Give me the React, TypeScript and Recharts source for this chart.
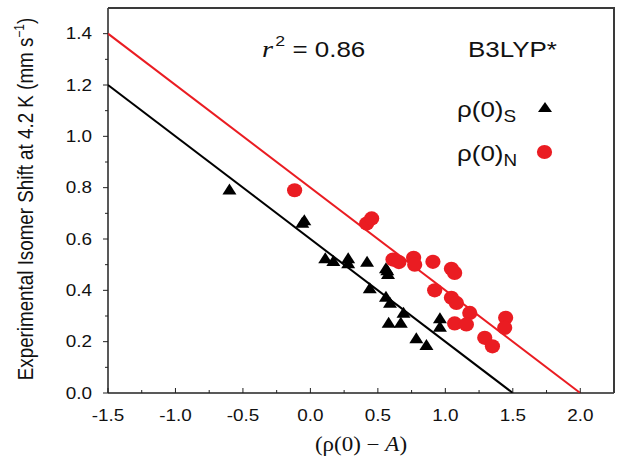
import React from 'react';
import { ScatterChart, Scatter, XAxis, YAxis } from 'recharts';

// ρ(0)_S (black triangles)
const sX = [-0.6, -0.045, -0.06, 0.11, 0.17, 0.28, 0.28, 0.42, 0.56, 0.575, 0.57, 0.44, 0.56, 0.59, 0.69, 0.58, 0.67, 0.785, 0.86, 0.96, 0.96];
const sY = [0.795, 0.675, 0.665, 0.527, 0.516, 0.527, 0.507, 0.513, 0.488, 0.466, 0.48, 0.41, 0.377, 0.354, 0.315, 0.276, 0.276, 0.215, 0.189, 0.293, 0.26];
// ρ(0)_N (red circles)
const nX = [-0.117, 0.417, 0.454, 0.612, 0.656, 0.765, 0.773, 0.908, 1.045, 1.069, 0.921, 1.045, 1.082, 1.181, 1.069, 1.156, 1.447, 1.44, 1.292, 1.349];
const nY = [0.79, 0.66, 0.68, 0.52, 0.51, 0.527, 0.5, 0.511, 0.484, 0.468, 0.4, 0.371, 0.351, 0.312, 0.271, 0.267, 0.293, 0.254, 0.215, 0.182];
// fit lines (endpoints)
const fitSX = [-1.5, 1.5];
const fitSY = [1.2, 0];
const fitNX = [-1.5, 2.0];
const fitNY = [1.4, 0];

const xTicks = [-1.5, -1.25, -1.0, -0.75, -0.5, -0.25, 0, 0.25, 0.5, 0.75, 1.0, 1.25, 1.5, 1.75, 2.0];
const yTicks = [0, 0.1, 0.2, 0.3, 0.4, 0.5, 0.6, 0.7, 0.8, 0.9, 1.0, 1.1, 1.2, 1.3, 1.4];

const r2Text = '0.86';
const methodText = 'B3LYP*';
const yTitle = 'Experimental Isomer Shift at 4.2 K (mm s';
const xTitle = 'A';

const zip = (xs: number[], ys: number[]) => xs.map((x, i) => ({ x, y: ys[i] }));
const dataS = zip(sX, sY);
const dataN = zip(nX, nY);
const lineS = zip(fitSX, fitSY);
const lineN = zip(fitNX, fitNY);

const SANS = 'Liberation Sans, Arial, Helvetica, sans-serif';
const SERIF = 'Liberation Serif, Times New Roman, serif';
const RED = '#ea1c22';
const SX = 1.18;

// plot box geometry (chart layout, not data)
const W = 624;
const H = 463;
const M = { top: 8, right: 10, bottom: 0, left: 0 };
const Y_AXIS_W = 108;
const X_AXIS_H = 70;
const PL = M.left + Y_AXIS_W;
const PR = W - M.right;
const PT = M.top;
const PB = H - M.bottom - X_AXIS_H;

const XTick = (props: any) => {
  const { x, y, payload } = props;
  const v = payload.value;
  const major = Math.abs(v * 2 - Math.round(v * 2)) < 1e-6;
  return (
    <g>
      <line x1={x} x2={x} y1={y} y2={y - (major ? 5 : 3)} stroke="#222" strokeWidth={1} />
      {major && (
        <g transform={`translate(${x},${y + 28}) scale(${SX},1)`}>
          <text x={0} y={0} textAnchor="middle" fontFamily={SANS} fontSize={16} fill="#111">
            {v.toFixed(1)}
          </text>
        </g>
      )}
    </g>
  );
};

const YTick = (props: any) => {
  const { x, y, payload } = props;
  const v = payload.value;
  const major = Math.abs(v * 5 - Math.round(v * 5)) < 1e-6;
  return (
    <g>
      <line x1={x} x2={x - (major ? 5 : 3)} y1={y} y2={y} stroke="#222" strokeWidth={1} />
      {major && (
        <g transform={`translate(${x - 16},${y + 5.7}) scale(${SX},1)`}>
          <text x={0} y={0} textAnchor="end" fontFamily={SANS} fontSize={16} fill="#111">
            {v.toFixed(1)}
          </text>
        </g>
      )}
    </g>
  );
};

const Tri = (props: any) => {
  const { cx, cy } = props;
  if (cx == null || cy == null) return <g />;
  return <polygon points={`${cx},${cy - 5.5} ${cx - 7},${cy + 5.5} ${cx + 7},${cy + 5.5}`} fill="#000" />;
};

const Dot = (props: any) => {
  const { cx, cy } = props;
  if (cx == null || cy == null) return <g />;
  return <ellipse cx={cx} cy={cy} rx={7.6} ry={7.1} fill={RED} />;
};

const NoShape = () => <g />;

const Annotations = () => (
  <svg width={W} height={H} style={{ position: 'absolute', left: 0, top: 0 }}>
    {/* frame top / right */}
    <rect x={PL} y={PT - 1} width={PR - PL + 1} height={2} fill="#3a3a3a" />
    <rect x={PR - 1} y={PT - 1} width={2} height={PB - PT + 1} fill="#3a3a3a" />
    {/* r^2 */}
    <g transform={`translate(262,56.5) scale(${SX},1)`}>
      <text x={0} y={0} fontFamily={SANS} fontSize={22} fill="#111">
        <tspan fontFamily={SERIF} fontStyle="italic" fontSize={24}>r</tspan>
        <tspan fontSize={15} dy={-11} dx={2}>2</tspan>
        <tspan dy={11}> = {r2Text}</tspan>
      </text>
    </g>
    <g transform={`translate(468,56.5) scale(${SX},1)`}>
      <text x={0} y={0} fontFamily={SANS} fontSize={22} fill="#111">{methodText}</text>
    </g>
    {/* legend */}
    <g transform={`translate(457,117) scale(${SX},1)`}>
      <text x={0} y={0} fontFamily={SANS} fontSize={22} fill="#111">
        ρ(0)<tspan fontSize={16} dy={5}>S</tspan>
      </text>
    </g>
    <polygon points="545,102 538,112 552,112" fill="#000" />
    <g transform={`translate(457,161) scale(${SX},1)`}>
      <text x={0} y={0} fontFamily={SANS} fontSize={22} fill="#111">
        ρ(0)<tspan fontSize={16} dy={5}>N</tspan>
      </text>
    </g>
    <ellipse cx={544.5} cy={152} rx={7.6} ry={7.1} fill={RED} />
    {/* y title */}
    <g transform="translate(32.5,199) rotate(-90) scale(1,1.17)">
      <text x={0} y={0} textAnchor="middle" fontFamily={SANS} fontSize={18.8} fill="#111">
        {yTitle}
        <tspan fontSize={12} dy={-7}>−1</tspan>
        <tspan dy={7}>)</tspan>
      </text>
    </g>
    {/* x title */}
    <g transform={`translate(361,451) scale(1.15,1)`}>
      <text x={0} y={0} textAnchor="middle" fontFamily={SERIF} fontSize={20} fill="#111">
        (ρ(0) − <tspan fontStyle="italic">{xTitle}</tspan>)
      </text>
    </g>
  </svg>
);

export default function App() {
  return (
    <div style={{ position: 'absolute', left: 0, top: 0, width: W, height: H, background: '#fff' }}>
      <ScatterChart width={W} height={H} margin={M}>
        <XAxis
          type="number"
          dataKey="x"
          domain={[-1.5, 2.25]}
          ticks={xTicks}
          interval={0}
          allowDataOverflow
          tickLine={false}
          tickSize={0}
          tickMargin={0}
          height={X_AXIS_H}
          axisLine={{ stroke: '#222', strokeWidth: 1.5 }}
          tick={<XTick />}
        />
        <YAxis
          type="number"
          dataKey="y"
          domain={[0, 1.5]}
          ticks={yTicks}
          interval={0}
          allowDataOverflow
          tickLine={false}
          tickSize={0}
          tickMargin={0}
          width={Y_AXIS_W}
          axisLine={{ stroke: '#222', strokeWidth: 1.5 }}
          tick={<YTick />}
        />
        <Scatter data={lineS} line={{ stroke: '#000', strokeWidth: 2 }} shape={<NoShape />} isAnimationActive={false} />
        <Scatter data={lineN} line={{ stroke: RED, strokeWidth: 2 }} shape={<NoShape />} isAnimationActive={false} />
        <Scatter data={dataS} shape={<Tri />} isAnimationActive={false} />
        <Scatter data={dataN} shape={<Dot />} isAnimationActive={false} />
      </ScatterChart>
      <Annotations />
    </div>
  );
}
